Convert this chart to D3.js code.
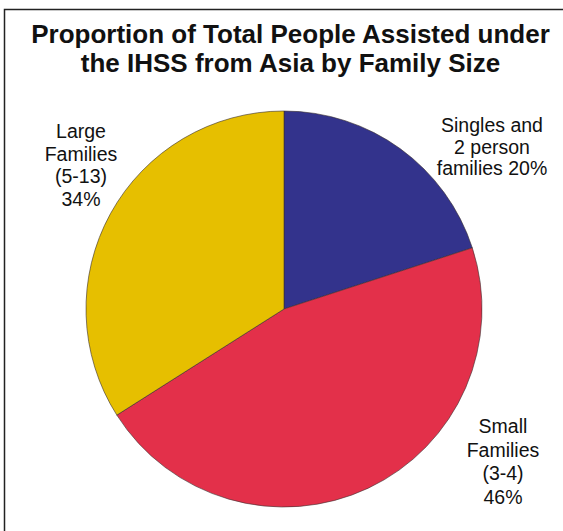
<!DOCTYPE html>
<html>
<head>
<meta charset="utf-8">
<script src="https://cdn.jsdelivr.net/npm/d3@7"></script>
<style>
  html, body { margin: 0; padding: 0; background: #fff; }
  svg { display: block; }
</style>
</head>
<body>
<svg id="chart" width="563" height="531"></svg>
<script>
// Family size groups and their share of people assisted (%)
const categories = ["Singles and 2 person families", "Small Families (3-4)", "Large Families (5-13)"];
const shares = [20, 46, 34];
const sliceColors = ["#33338c", "#e3304a", "#e6bf00"];
const labelLines = [
  ["Singles and", "2 person", "families 20%"],
  ["Small", "Families", "(3-4)", "46%"],
  ["Large", "Families", "(5-13)", "34%"]
];
const titleLines = ["Proportion of Total People Assisted under", "the IHSS from Asia by Family Size"];

const svg = d3.select("#chart");
const W = 563, H = 531;

// Frame: left and top rules
svg.append("path")
  .attr("d", `M4.5,${H} L4.5,9.5 L${W},9.5`)
  .attr("fill", "none")
  .attr("stroke", "#222")
  .attr("stroke-width", 1.5);

// Title
svg.append("g").selectAll("text")
  .data(titleLines)
  .join("text")
  .attr("x", 290.5)
  .attr("y", (d, i) => 43 + i * 29)
  .attr("text-anchor", "middle")
  .attr("font-family", "Liberation Sans, Arial, sans-serif")
  .attr("font-weight", "bold")
  .attr("font-size", 26)
  .attr("fill", "#111")
  .text(d => d);

// Pie
const cx = 284, cy = 309, r = 198;
const pie = d3.pie().sort(null).value(d => d);
const arc = d3.arc().innerRadius(0).outerRadius(r);
const arcs = pie(shares);

svg.append("g")
  .attr("transform", `translate(${cx},${cy})`)
  .selectAll("path")
  .data(arcs)
  .join("path")
  .attr("d", arc)
  .attr("fill", (d, i) => sliceColors[i])
  .attr("stroke", "#3a3030")
  .attr("stroke-opacity", 0.6)
  .attr("stroke-width", 1);

// Slice labels, placed around the pie
const labelPos = [
  { x: 492, y: 132, gap: 21.5 },
  { x: 503, y: 433, gap: 23.5 },
  { x: 81, y: 138, gap: 22.7 }
];
labelLines.forEach((lines, i) => {
  svg.append("text")
    .attr("text-anchor", "middle")
    .attr("font-family", "Liberation Sans, Arial, sans-serif")
    .attr("font-size", 19.5)
    .attr("fill", "#111")
    .selectAll("tspan")
    .data(lines)
    .join("tspan")
    .attr("x", labelPos[i].x)
    .attr("y", (d, j) => labelPos[i].y + j * labelPos[i].gap)
    .text(d => d);
});
</script>
</body>
</html>
